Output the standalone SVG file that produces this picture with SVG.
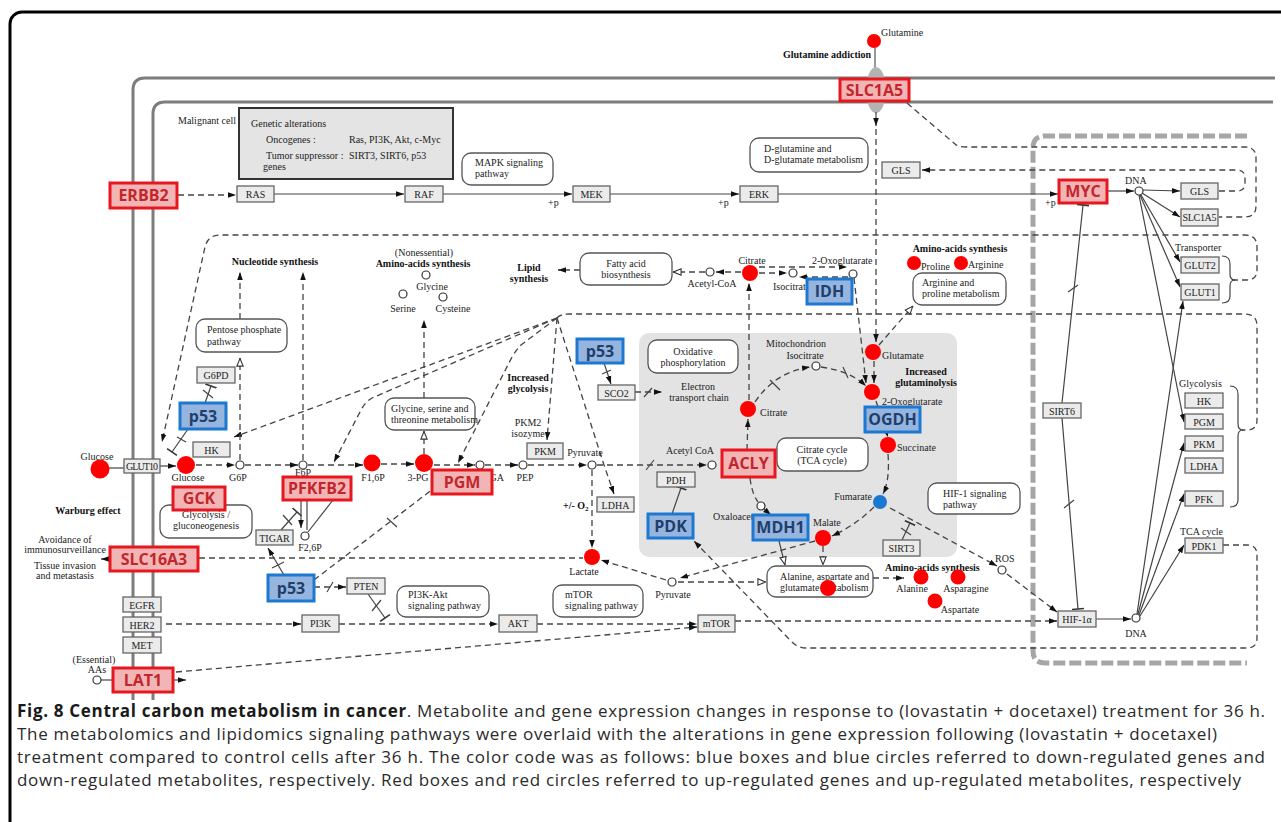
<svg xmlns="http://www.w3.org/2000/svg" width="1281" height="822" viewBox="0 0 1281 822">
<style>
.t{font-family:"Liberation Serif","DejaVu Serif",serif;font-size:10px;fill:#222}
.b{font-weight:bold;fill:#111}
.c{text-anchor:middle}
.e{text-anchor:end}
.gb{fill:#ebebeb;stroke:#666;stroke-width:1.3}
.pw{fill:#fff;stroke:#555;stroke-width:1.3}
.rg rect{fill:#f1b5b5;stroke:#e8161e;stroke-width:3}
.rg text{font-family:"Open Sans","Noto Sans",sans-serif;font-weight:bold;font-size:16px;fill:#c4252c;text-anchor:middle}
.bg rect{fill:#95b5df;stroke:#1c78d0;stroke-width:3}
.bg text{font-family:"Open Sans","Noto Sans",sans-serif;font-weight:bold;font-size:16px;fill:#1f3e6c;text-anchor:middle}
.d{fill:none;stroke:#444;stroke-width:1.3;stroke-dasharray:6 4}
.s{fill:none;stroke:#444;stroke-width:1.2}
.mem{fill:none;stroke:#7d7d7d;stroke-width:3}
.oc{fill:#fff;stroke:#333;stroke-width:1.2}
.rc{fill:#ff0000}
.cap{font-family:"Open Sans","Noto Sans",sans-serif;font-size:17px;fill:#2a2a2a}
</style>
<defs>
<marker id="ah" viewBox="0 0 10 10" refX="10" refY="5" markerWidth="8" markerHeight="8" markerUnits="userSpaceOnUse" orient="auto"><path d="M0,1.5 L10,5 L0,8.5z" fill="#111"/></marker>
<marker id="ot" viewBox="0 0 10 10" refX="10" refY="5" markerWidth="9" markerHeight="9" markerUnits="userSpaceOnUse" orient="auto"><path d="M1,1.5 L9.5,5 L1,8.5z" fill="#fff" stroke="#333" stroke-width="1.2"/></marker>
<marker id="bar" viewBox="0 0 4 12" refX="2" refY="6" markerWidth="4" markerHeight="12" markerUnits="userSpaceOnUse" orient="auto"><path d="M2,0V12" stroke="#333" stroke-width="1.6"/></marker>
</defs>
<rect width="1281" height="822" fill="#fff"/>
<rect x="10" y="12" width="1300" height="840" rx="12" fill="none" stroke="#000" stroke-width="3"/>

<g id="background">
<path class="mem" d="M133,700 V90 Q133,78 145,78 H1275"/>
<path class="mem" d="M153,700 V114 Q153,102 165,102 H1273"/>
<rect x="639" y="333" width="318" height="224" rx="10" fill="#e3e3e3"/>
<path d="M1247,136 H1045 Q1033,136 1033,148 V651 Q1033,663 1045,663 H1247" fill="none" stroke="#a6a6a6" stroke-width="5" stroke-dasharray="12 4"/>
<text class="t" x="178" y="124">Malignant cell</text>
<text class="t c" x="796" y="347">Mitochondrion</text>
</g>

<g id="genetic-alterations">
<rect x="239" y="108" width="214" height="71" fill="#e4e4e4" stroke="#333" stroke-width="2"/>
<text class="t" x="251" y="127">Genetic alterations</text>
<text class="t" x="266" y="143">Oncogenes :</text>
<text class="t" x="349" y="143">Ras, PI3K, Akt, c-Myc</text>
<text class="t" x="266" y="159">Tumor suppressor :</text>
<text class="t" x="349" y="159">SIRT3, SIRT6, p53</text>
<text class="t" x="263" y="170">genes</text>
</g>

<g id="connectors">
<path d="M875,48 V70" stroke="#999" stroke-width="2"/>
<ellipse cx="876" cy="90" rx="10" ry="23" fill="#b3b3b3"/>
<path class="s" d="M876,112 V126" marker-end="url(#ah)"/>
<path class="d" d="M876,129 V342" marker-end="url(#ah)"/>
<path class="d" d="M907,103 L955,144 Q958,147 966,147 H1245 Q1256,147 1256,158 V206 Q1256,217 1245,217 H1219"/>
<path class="d" d="M1219,191 H1237 Q1245,191 1245,183 V178 Q1245,170 1237,170 H922" marker-end="url(#ah)"/>
<path class="d" d="M178,195 H236" marker-end="url(#ah)"/>
<path class="s" d="M274,194 H404" marker-end="url(#ah)"/>
<path class="s" d="M443,194 H572" marker-end="url(#ah)"/>
<path class="s" d="M610,194 H739" marker-end="url(#ah)"/>
<path class="s" d="M778,194 H1058" marker-end="url(#ah)"/>
<path class="s" d="M1107,191 H1134" marker-end="url(#ah)"/>
<path class="s" d="M1143,190 L1180,191" marker-end="url(#ah)"/>
<path class="s" d="M1142,193 L1180,217" marker-end="url(#ah)"/>
<path class="s" d="M1141,195 L1180,262" marker-end="url(#ah)"/>
<path class="s" d="M1140,195 L1180,287" marker-end="url(#ah)"/>
<path class="s" d="M1139,195 L1184,422" marker-end="url(#ah)"/>
<path class="s" d="M1137,614 L1183,301" marker-end="url(#ah)"/>
<path class="s" d="M1138,614 L1184,443" marker-end="url(#ah)"/>
<path class="s" d="M1139,615 L1184,494" marker-end="url(#ah)"/>
<path class="s" d="M1140,616 L1184,545" marker-end="url(#ah)"/>
<path class="s" d="M1096,619 H1131" marker-end="url(#ah)"/>
<path class="s" d="M1062,403 L1083,205" marker-end="url(#bar)"/>
<path class="s" d="M1068,292 L1078,285"/>
<path class="s" d="M1062,418 L1078,609" marker-end="url(#bar)"/>
<path class="s" d="M1064,508 L1074,500"/>
<path class="d" d="M1232,280 H1247 Q1257,280 1257,270 V247 Q1257,235 1245,235 H220 Q208,235 205,247 L162,442" marker-end="url(#ah)"/>
<path class="s" d="M1222,256 Q1230,256 1230,264 V274 Q1230,280 1235,280 Q1230,280 1230,286 V296 Q1230,303 1222,303"/>
<path class="d" d="M557,318 Q560,314 570,314 H1245 Q1257,314 1257,326 V420 Q1257,430 1247,430 H1242"/>
<path class="s" d="M1230,386 Q1238,386 1238,394 V424 Q1238,430 1243,430 Q1238,430 1238,436 V500 Q1238,507 1230,507"/>
<path class="d" d="M1223,545 H1247 Q1257,545 1257,555 V638 Q1257,648 1247,648 H806 Q797,648 790,640 L694,541" marker-end="url(#ah)"/>
<path class="d" d="M557,318 L234,437" marker-end="url(#ah)"/>
<path class="d" d="M557,318 L372,398 Q365,402 361,410 L334,462" marker-end="url(#ah)"/>
<path class="d" d="M557,318 L521,345 Q516,350 512,357 L458,463" marker-end="url(#ah)"/>
<path class="d" d="M557,318 L547,440" marker-end="url(#ah)"/>
<path class="d" d="M557,318 L603,462 L614,494" marker-end="url(#ah)"/>
<path class="s" d="M109,468 H124"/>
<path class="s" d="M160,466 H176" marker-end="url(#ah)"/>
<path class="d" d="M196,465 H235" marker-end="url(#ah)"/>
<path class="d" d="M245,465 H298" marker-end="url(#ah)"/>
<path class="d" d="M308,465 H363" marker-end="url(#ah)"/>
<path class="d" d="M381,464 H414" marker-end="url(#ah)"/>
<path class="d" d="M434,465 H475" marker-end="url(#ah)"/>
<path class="d" d="M485,465 H518" marker-end="url(#ah)"/>
<path class="d" d="M528,465 H587" marker-end="url(#ah)"/>
<path class="d" d="M597,465 H707" marker-end="url(#ah)"/>
<path class="s" d="M646,470 L654,460"/>
<path class="d" d="M240,460 V358" marker-end="url(#ot)"/>
<path class="d" d="M240,319 V272" marker-end="url(#ah)"/>
<path class="d" d="M303,460 V272" marker-end="url(#ah)"/>
<path class="d" d="M424,454 V431" marker-end="url(#ot)"/>
<path class="d" d="M424,398 V320" marker-end="url(#ah)"/>
<path class="d" d="M592,470 V548" marker-end="url(#ah)"/>
<path class="s" d="M205,403 L211,386" marker-end="url(#bar)"/>
<path class="s" d="M203,390 L213,398"/>
<path class="s" d="M188,429 L172,452" marker-end="url(#bar)"/>
<path class="s" d="M177,437 L186,442"/>
<path class="d" d="M314,587 H346" marker-end="url(#ah)"/>
<path class="s" d="M327,592 L333,582"/>
<path class="s" d="M284,575 L268,548" marker-end="url(#ah)"/>
<path class="s" d="M272,568 L284,562"/>
<path class="s" d="M281,530 L297,512" marker-end="url(#bar)"/>
<path class="s" d="M283,515 L292,525"/>
<path class="d" d="M314,580 L459,469" marker-end="url(#ah)"/>
<path class="s" d="M387,518 L397,527"/>
<path class="s" d="M301,501 V528" marker-end="url(#ah)"/>
<path class="s" d="M307,501 V530"/>
<path class="s" d="M308,532 L333,500"/>
<path class="s" d="M110,559 H101" marker-end="url(#ah)"/>
<path class="d" d="M199,558 H583"/>
<path class="d" d="M166,624 H301" marker-end="url(#ah)"/>
<path class="d" d="M339,624 H498" marker-end="url(#ah)"/>
<path class="s" d="M368,594 L385,618" marker-end="url(#bar)"/>
<path class="s" d="M372,611 L381,600"/>
<path class="d" d="M537,624 H697" marker-end="url(#ah)"/>
<path class="d" d="M735,621 H1057" marker-end="url(#ah)"/>
<path class="d" d="M176,672 L697,627" marker-end="url(#ah)"/>
<path class="s" d="M101,680 H113"/>
<path class="s" d="M173,680 H186" marker-end="url(#ah)"/>
<path class="s" d="M604,363 L611,384" marker-end="url(#ah)"/>
<path class="s" d="M602,374 L611,370"/>
<path class="d" d="M635,392 H662" marker-end="url(#ah)"/>
<path class="s" d="M644,397 L652,388"/>
<path class="d" d="M705,272 H673" marker-end="url(#ot)"/>
<path class="d" d="M580,270 H558" marker-end="url(#ah)"/>
<path class="d" d="M741,272 H716" marker-end="url(#ah)"/>
<path class="d" d="M759,267 H847" marker-end="url(#ah)"/>
<path class="d" d="M759,273 H787" marker-end="url(#ah)"/>
<path class="d" d="M848,277 H799" marker-end="url(#ah)"/>
<path class="d" d="M749,400 V283" marker-end="url(#ah)"/>
<path class="d" d="M854,278 L866,383" marker-end="url(#ah)"/>
<path class="d" d="M874,361 V383" marker-end="url(#ah)"/>
<path class="d" d="M879,345 L913,306" marker-end="url(#ot)"/>
<path class="d" d="M747,450 L748,419" marker-end="url(#ah)"/>
<path class="d" d="M755,402 Q775,372 810,367" marker-end="url(#ah)"/>
<path class="s" d="M770,380 L780,390"/>
<path class="d" d="M821,367 Q850,371 866,386" marker-end="url(#ah)"/>
<path class="s" d="M843,367 L848,378"/>
<path class="d" d="M876,401 L888,437" marker-end="url(#ah)"/>
<path class="d" d="M888,454 Q890,480 883,494" marker-end="url(#ah)"/>
<path class="d" d="M874,507 Q856,525 832,536" marker-end="url(#ah)"/>
<path class="d" d="M750,478 Q752,494 758,502"/>
<path class="s" d="M764,509 L771,515" marker-end="url(#ah)"/>
<path class="s" d="M672,514 L681,488" marker-end="url(#bar)"/>
<path class="d" d="M815,541 L680,578" marker-end="url(#ah)"/>
<path class="d" d="M666,580 L601,560" marker-end="url(#ah)"/>
<path class="d" d="M678,582 H766" marker-end="url(#ot)"/>
<path class="s" d="M779,541 L785,565" marker-end="url(#ot)"/>
<path class="d" d="M823,546 V565" marker-end="url(#ot)"/>
<path class="d" d="M873,578 H904" marker-end="url(#ah)"/>
<path class="d" d="M890,508 L997,566" marker-end="url(#ah)"/>
<path class="s" d="M902,540 L910,523" marker-end="url(#bar)"/>
<path class="s" d="M901,528 L911,535"/>
<path class="d" d="M1007,574 L1057,612" marker-end="url(#ah)"/>
</g>

<g id="metabolites">
<circle class="rc" cx="874" cy="41" r="7"/><text class="t" x="881" y="36">Glutamine</text>
<text class="t b" x="783" y="58">Glutamine addiction</text>
<circle class="rc" cx="100" cy="469" r="9.5"/><text class="t c" x="97" y="460">Glucose</text>
<circle class="rc" cx="186" cy="465" r="9"/><text class="t c" x="188" y="481">Glucose</text>
<circle class="oc" cx="240" cy="465" r="4"/><text class="t c" x="238" y="481">G6P</text>
<circle class="oc" cx="303" cy="465" r="4"/><text class="t c" x="303" y="476" font-size="9">F6P</text>
<circle class="rc" cx="372" cy="463" r="8.5"/><text class="t c" x="373" y="481">F1,6P</text>
<circle class="rc" cx="424" cy="463" r="9"/><text class="t c" x="418" y="481">3-PG</text>
<circle class="oc" cx="480" cy="465" r="4"/><text class="t" x="484" y="481">PGA</text>
<circle class="oc" cx="523" cy="465" r="4"/><text class="t c" x="525" y="481">PEP</text>
<circle class="oc" cx="592" cy="465" r="4"/><text class="t c" x="585" y="456">Pyruvate</text>
<circle class="oc" cx="712" cy="465" r="4"/><text class="t c" x="690" y="454">Acetyl CoA</text>
<circle class="oc" cx="305" cy="536" r="4"/><text class="t c" x="310" y="551">F2,6P</text>
<circle class="rc" cx="592" cy="557" r="8"/><text class="t c" x="584" y="575">Lactate</text>
<circle class="oc" cx="672" cy="582" r="4"/><text class="t c" x="673" y="598">Pyruvate</text>
<text class="t c" x="424" y="256">(Nonessential)</text>
<text class="t b c" x="423" y="267">Amino-acids synthesis</text>
<circle class="oc" cx="426" cy="275" r="4"/><text class="t c" x="432" y="290">Glycine</text>
<circle class="oc" cx="403" cy="294" r="4"/><text class="t c" x="403" y="312">Serine</text>
<circle class="oc" cx="443" cy="297" r="4"/><text class="t c" x="453" y="312">Cysteine</text>
<text class="t b c" x="275" y="265">Nucleotide synthesis</text>
<text class="t b c" x="529" y="271">Lipid</text><text class="t b c" x="529" y="282">synthesis</text>
<text class="t b c" x="528" y="381">Increased</text><text class="t b c" x="528" y="392">glycolysis</text>
<text class="t c" x="528" y="426">PKM2</text><text class="t c" x="528" y="437">isozyme</text>
<circle class="oc" cx="710" cy="272" r="4"/><text class="t c" x="712" y="287">Acetyl-CoA</text>
<circle class="rc" cx="750" cy="273" r="8"/><text class="t c" x="752" y="264">Citrate</text>
<circle class="oc" cx="793" cy="273" r="4"/><text class="t" x="773" y="290">Isocitrate</text>
<circle class="oc" cx="853" cy="274" r="4"/><text class="t" x="812" y="264">2-Oxoglutarate</text>
<text class="t b c" x="960" y="252">Amino-acids synthesis</text>
<circle class="rc" cx="914" cy="263" r="7"/><text class="t" x="921" y="270">Proline</text>
<circle class="rc" cx="961" cy="263" r="7"/><text class="t" x="968" y="268">Arginine</text>
<circle class="rc" cx="873" cy="352" r="8"/><text class="t" x="882" y="359">Glutamate</text>
<text class="t b c" x="926" y="375">Increased</text><text class="t b c" x="926" y="386">glutaminolysis</text>
<circle class="oc" cx="816" cy="366" r="4"/><text class="t c" x="805" y="359">Isocitrate</text>
<circle class="rc" cx="748" cy="409" r="8"/><text class="t" x="760" y="416">Citrate</text>
<circle class="rc" cx="872" cy="392" r="8"/><text class="t" x="882" y="405">2-Oxoglutarate</text>
<circle class="rc" cx="888" cy="445" r="8"/><text class="t" x="897" y="451">Succinate</text>
<circle cx="880" cy="502" r="7" fill="#1a78d0"/><text class="t e" x="872" y="500">Fumarate</text>
<circle class="rc" cx="823" cy="538" r="8"/><text class="t" x="813" y="526">Malate</text>
<circle class="oc" cx="761" cy="506" r="4"/><text class="t" x="713" y="520">Oxaloacetate</text>
<text class="t c" x="698" y="390">Electron</text><text class="t c" x="699" y="401">transport chain</text>
<text class="t b" x="563" y="509">+/- O<tspan font-size="7" dy="2">2</tspan></text>
<circle class="oc" cx="1002" cy="570" r="4"/><text class="t" x="995" y="562">ROS</text>
<text class="t b" x="885" y="571">Amino-acids synthesis</text>
<circle class="rc" cx="921" cy="577" r="7.5"/><text class="t c" x="912" y="592">Alanine</text>
<circle class="rc" cx="958" cy="577" r="7.5"/><text class="t c" x="966" y="592">Asparagine</text>
<circle class="rc" cx="935" cy="601" r="7.5"/><text class="t c" x="960" y="613">Aspartate</text>
<circle class="oc" cx="1139" cy="191" r="4"/><text class="t" x="1125" y="184">DNA</text>
<circle class="oc" cx="1136" cy="618" r="4"/><text class="t c" x="1136" y="637">DNA</text>
<text class="t" x="1175" y="251">Transporter</text>
<text class="t" x="1179" y="387">Glycolysis</text>
<text class="t" x="1180" y="535">TCA cycle</text>
<text class="t" x="548" y="206">+p</text><text class="t" x="718" y="206">+p</text><text class="t" x="1045" y="206">+p</text>
<text class="t b c" x="88" y="514">Warburg effect</text>
<text class="t c" x="65" y="543">Avoidance of</text><text class="t c" x="65" y="553">immunosurveillance</text>
<text class="t c" x="65" y="569">Tissue invasion</text><text class="t c" x="65" y="579">and metastasis</text>
<text class="t c" x="94" y="663">(Essential)</text><text class="t c" x="97" y="673">AAs</text>
<circle class="oc" cx="97" cy="680" r="4"/>
</g>

<g id="pathways">
<g id="p-mapk"><rect class="pw" x="462" y="153" width="91" height="32" rx="9"/><text class="t" x="475" y="166">MAPK signaling</text><text class="t" x="475" y="177">pathway</text></g>
<g id="p-dglu"><rect class="pw" x="750" y="138" width="118" height="34" rx="9"/><text class="t" x="764" y="152">D-glutamine and</text><text class="t" x="764" y="163">D-glutamate metabolism</text></g>
<g id="p-ppp"><rect class="pw" x="196" y="319" width="91" height="33" rx="9"/><text class="t" x="207" y="333">Pentose phosphate</text><text class="t" x="207" y="345">pathway</text></g>
<g id="p-gly"><rect class="pw" x="385" y="398" width="90" height="32" rx="9"/><text class="t" x="391" y="412">Glycine, serine and</text><text class="t" x="391" y="423">threonine metabolism</text></g>
<g id="p-fatty"><rect class="pw" x="580" y="253" width="92" height="32" rx="9"/><text class="t c" x="626" y="267">Fatty acid</text><text class="t c" x="626" y="278">biosynthesis</text></g>
<g id="p-arg"><rect class="pw" x="913" y="273" width="93" height="32" rx="9"/><text class="t" x="922" y="286">Arginine and</text><text class="t" x="922" y="297">proline metabolism</text></g>
<g id="p-oxphos"><rect class="pw" x="648" y="340" width="90" height="33" rx="9"/><text class="t c" x="693" y="355">Oxidative</text><text class="t c" x="693" y="366">phosphorylation</text></g>
<g id="p-tca"><rect class="pw" x="777" y="438" width="91" height="33" rx="9"/><text class="t c" x="822" y="453">Citrate cycle</text><text class="t c" x="822" y="464">(TCA cycle)</text></g>
<g id="p-glyco"><rect class="pw" x="160" y="505" width="92" height="33" rx="9"/><text class="t c" x="206" y="518">Glycolysis /</text><text class="t c" x="206" y="529">gluconeogenesis</text></g>
<g id="p-hif"><rect class="pw" x="928" y="483" width="92" height="31" rx="9"/><text class="t" x="943" y="497">HIF-1 signaling</text><text class="t" x="943" y="508">pathway</text></g>
<g id="p-ala"><rect class="pw" x="767" y="566" width="106" height="31" rx="9"/><text class="t" x="780" y="580">Alanine, aspartate and</text><text class="t" x="780" y="591">glutamate metabolism</text><circle class="rc" cx="828" cy="588" r="8"/></g>
<g id="p-mtor"><rect class="pw" x="553" y="585" width="90" height="32" rx="9"/><text class="t" x="565" y="598">mTOR</text><text class="t" x="565" y="609">signaling pathway</text></g>
<g id="p-pi3k"><rect class="pw" x="397" y="586" width="92" height="31" rx="9"/><text class="t" x="408" y="598">PI3K-Akt</text><text class="t" x="408" y="609">signaling pathway</text></g>
</g>

<g id="gray-genes">
<g id="n-ras"><rect class="gb" x="237" y="186" width="37" height="16"/><text class="t c" x="255.5" y="198">RAS</text></g>
<g id="n-raf"><rect class="gb" x="405" y="186" width="38" height="16"/><text class="t c" x="424" y="198">RAF</text></g>
<g id="n-mek"><rect class="gb" x="573" y="186" width="37" height="16"/><text class="t c" x="591.5" y="198">MEK</text></g>
<g id="n-erk"><rect class="gb" x="740" y="186" width="38" height="16"/><text class="t c" x="759" y="198">ERK</text></g>
<g id="n-gls1"><rect class="gb" x="882" y="162" width="38" height="16"/><text class="t c" x="901" y="174">GLS</text></g>
<g id="n-gls2"><rect class="gb" x="1181" y="183" width="37" height="16"/><text class="t c" x="1199.5" y="195">GLS</text></g>
<g id="n-slc1a5s"><rect class="gb" x="1181" y="209" width="37" height="17"/><text class="t c" x="1199.5" y="221" textLength="34">SLC1A5</text></g>
<g id="n-glut2"><rect class="gb" x="1181" y="257" width="38" height="16"/><text class="t c" x="1200" y="269">GLUT2</text></g>
<g id="n-glut1"><rect class="gb" x="1181" y="284" width="38" height="16"/><text class="t c" x="1200" y="296">GLUT1</text></g>
<g id="n-hk2"><rect class="gb" x="1185" y="393" width="38" height="15"/><text class="t c" x="1204" y="405">HK</text></g>
<g id="n-pgm2"><rect class="gb" x="1185" y="414" width="38" height="15"/><text class="t c" x="1204" y="426">PGM</text></g>
<g id="n-pkm2"><rect class="gb" x="1185" y="436" width="38" height="15"/><text class="t c" x="1204" y="448">PKM</text></g>
<g id="n-ldha2"><rect class="gb" x="1185" y="458" width="38" height="15"/><text class="t c" x="1204" y="470">LDHA</text></g>
<g id="n-pfk"><rect class="gb" x="1185" y="491" width="38" height="15"/><text class="t c" x="1204" y="503">PFK</text></g>
<g id="n-pdk1"><rect class="gb" x="1185" y="538" width="38" height="15"/><text class="t c" x="1204" y="550">PDK1</text></g>
<g id="n-sirt6"><rect class="gb" x="1043" y="403" width="38" height="15"/><text class="t c" x="1062" y="415">SIRT6</text></g>
<g id="n-hif"><rect class="gb" x="1058" y="611" width="38" height="16"/><text class="t c" x="1077" y="623">HIF-1α</text></g>
<g id="n-sirt3"><rect class="gb" x="883" y="540" width="37" height="16"/><text class="t c" x="901.5" y="552">SIRT3</text></g>
<g id="n-pdh"><rect class="gb" x="657" y="472" width="38" height="15"/><text class="t c" x="676" y="484">PDH</text></g>
<g id="n-ldha1"><rect class="gb" x="597" y="497" width="37" height="15"/><text class="t c" x="615.5" y="509">LDHA</text></g>
<g id="n-pkm1"><rect class="gb" x="527" y="443" width="36" height="16"/><text class="t c" x="545" y="455">PKM</text></g>
<g id="n-sco2"><rect class="gb" x="598" y="385" width="37" height="15"/><text class="t c" x="616.5" y="397">SCO2</text></g>
<g id="n-g6pd"><rect class="gb" x="197" y="367" width="38" height="16"/><text class="t c" x="216" y="379">G6PD</text></g>
<g id="n-hk1"><rect class="gb" x="193" y="442" width="37" height="15"/><text class="t c" x="211.5" y="454">HK</text></g>
<g id="n-glut10"><rect class="gb" x="124" y="459" width="36" height="14"/><text class="t c" x="142" y="470" textLength="32">GLUT10</text></g>
<g id="n-tigar"><rect class="gb" x="256" y="530" width="37" height="15"/><text class="t c" x="274.5" y="542">TIGAR</text></g>
<g id="n-pten"><rect class="gb" x="347" y="578" width="38" height="16"/><text class="t c" x="366" y="590">PTEN</text></g>
<g id="n-pi3k"><rect class="gb" x="302" y="615" width="37" height="17"/><text class="t c" x="320.5" y="627">PI3K</text></g>
<g id="n-akt"><rect class="gb" x="499" y="615" width="38" height="17"/><text class="t c" x="518" y="627">AKT</text></g>
<g id="n-mtor"><rect class="gb" x="698" y="615" width="37" height="17"/><text class="t c" x="716.5" y="627">mTOR</text></g>
<g id="n-egfr"><rect class="gb" x="123" y="597" width="38" height="15"/><text class="t c" x="142" y="609">EGFR</text></g>
<g id="n-her2"><rect class="gb" x="123" y="617" width="38" height="15"/><text class="t c" x="142" y="629">HER2</text></g>
<g id="n-met"><rect class="gb" x="123" y="637" width="38" height="16"/><text class="t c" x="142" y="649">MET</text></g>
</g>

<g id="up-genes" class="rg">
<g id="g-slc1a5"><rect x="840" y="79" width="69" height="22"/><text x="874.5" y="96">SLC1A5</text></g>
<g id="g-erbb2"><rect x="110" y="183" width="67" height="25"/><text x="143.5" y="201">ERBB2</text></g>
<g id="g-myc"><rect x="1059" y="180" width="48" height="23"/><text x="1083" y="197">MYC</text></g>
<g id="g-gck"><rect x="173" y="487" width="52" height="23"/><text x="199" y="504">GCK</text></g>
<g id="g-pfkfb2"><rect x="283" y="477" width="68" height="23"/><text x="317" y="494">PFKFB2</text></g>
<g id="g-pgm"><rect x="432" y="470" width="60" height="24"/><text x="462" y="488">PGM</text></g>
<g id="g-acly"><rect x="722" y="450" width="53" height="27"/><text x="748.5" y="469">ACLY</text></g>
<g id="g-slc16a3"><rect x="110" y="547" width="88" height="24"/><text x="154" y="565">SLC16A3</text></g>
<g id="g-lat1"><rect x="113" y="668" width="60" height="24"/><text x="143" y="686">LAT1</text></g>
</g>

<g id="down-genes" class="bg">
<g id="g-p53a"><rect x="180" y="403" width="46" height="26"/><text x="203" y="422">p53</text></g>
<g id="g-p53b"><rect x="577" y="339" width="46" height="24"/><text x="600" y="357">p53</text></g>
<g id="g-p53c"><rect x="268" y="575" width="46" height="26"/><text x="291" y="594">p53</text></g>
<g id="g-idh"><rect x="807" y="279" width="45" height="25"/><text x="829.5" y="297">IDH</text></g>
<g id="g-ogdh"><rect x="865" y="407" width="55" height="25"/><text x="892.5" y="425">OGDH</text></g>
<g id="g-pdk"><rect x="648" y="514" width="45" height="24"/><text x="670.5" y="532">PDK</text></g>
<g id="g-mdh1"><rect x="753" y="515" width="55" height="25"/><text x="780.5" y="533">MDH1</text></g>
</g>

<g id="caption">
<text class="cap" x="17" y="717" textLength="1248" lengthAdjust="spacing"><tspan font-weight="bold" fill="#1a1a1a">Fig. 8 Central carbon metabolism in cancer</tspan>. Metabolite and gene expression changes in response to (lovastatin + docetaxel) treatment for 36 h.</text>
<text class="cap" x="17" y="740" textLength="1200" lengthAdjust="spacing">The metabolomics and lipidomics signaling pathways were overlaid with the alterations in gene expression following (lovastatin + docetaxel)</text>
<text class="cap" x="17" y="763" textLength="1248" lengthAdjust="spacing">treatment compared to control cells after 36 h. The color code was as follows: blue boxes and blue circles referred to down-regulated genes and</text>
<text class="cap" x="17" y="786" textLength="1224" lengthAdjust="spacing">down-regulated metabolites, respectively. Red boxes and red circles referred to up-regulated genes and up-regulated metabolites, respectively</text>
</g>
</svg>
